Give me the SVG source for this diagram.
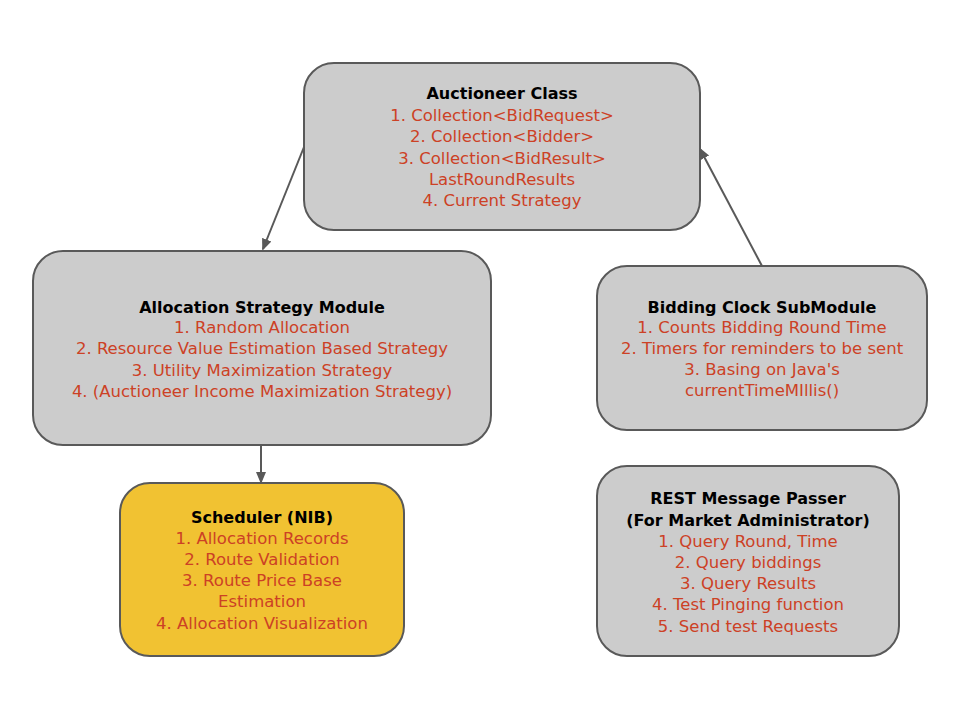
<svg xmlns="http://www.w3.org/2000/svg" width="960" height="720" viewBox="0 0 960 720">
<style>
.box{fill:#cccccc;stroke:#595959;stroke-width:2}
.yel{fill:#f1c232;stroke:#595959;stroke-width:2}
text{font-family:"DejaVu Sans","Open Sans",sans-serif;font-size:16.5px;text-anchor:middle}
.t{font-weight:bold;fill:#000000;font-size:16px}
.r{fill:#cc4125}
.c{stroke:#595959;stroke-width:2;fill:none;marker-end:url(#ah)}
</style>
<defs>
<marker id="ah" markerWidth="12" markerHeight="12" refX="10" refY="6" orient="auto" markerUnits="userSpaceOnUse" viewBox="0 0 12 12">
<path d="M0,1 L12,6 L0,11 Z" fill="#595959"/>
</marker>
</defs>
<rect width="960" height="720" fill="#ffffff"/>
<g id="auctioneer">
<rect class="box" x="304" y="63" width="396" height="167" rx="30"/>
<text class="t" x="502" y="99">Auctioneer Class</text>
<text class="r" x="502" y="121">1. Collection&lt;BidRequest&gt;</text>
<text class="r" x="502" y="142">2. Collection&lt;Bidder&gt;</text>
<text class="r" x="502" y="164">3. Collection&lt;BidResult&gt;</text>
<text class="r" x="502" y="185">LastRoundResults</text>
<text class="r" x="502" y="206">4. Current Strategy</text>
</g>
<g id="allocation">
<rect class="box" x="33" y="251" width="458" height="194" rx="30"/>
<text class="t" x="262" y="313">Allocation Strategy Module</text>
<text class="r" x="262" y="333">1. Random Allocation</text>
<text class="r" x="262" y="354">2. Resource Value Estimation Based Strategy</text>
<text class="r" x="262" y="376">3. Utility Maximization Strategy</text>
<text class="r" x="262" y="397">4. (Auctioneer Income Maximization Strategy)</text>
</g>
<g id="biddingclock">
<rect class="box" x="597" y="266" width="330" height="164" rx="30"/>
<text class="t" x="762" y="313">Bidding Clock SubModule</text>
<text class="r" x="762" y="333">1. Counts Bidding Round Time</text>
<text class="r" x="762" y="354">2. Timers for reminders to be sent</text>
<text class="r" x="762" y="375">3. Basing on Java's</text>
<text class="r" x="762" y="396">currentTimeMIllis()</text>
</g>
<g id="scheduler">
<rect class="yel" x="120" y="483" width="284" height="173" rx="30"/>
<text class="t" x="262" y="523">Scheduler (NIB)</text>
<text class="r" x="262" y="544">1. Allocation Records</text>
<text class="r" x="262" y="565">2. Route Validation</text>
<text class="r" x="262" y="586">3. Route Price Base</text>
<text class="r" x="262" y="607">Estimation</text>
<text class="r" x="262" y="629">4. Allocation Visualization</text>
</g>
<g id="rest">
<rect class="box" x="597" y="466" width="302" height="190" rx="30"/>
<text class="t" x="748" y="504">REST Message Passer</text>
<text class="t" x="748" y="526">(For Market Administrator)</text>
<text class="r" x="748" y="547">1. Query Round, Time</text>
<text class="r" x="748" y="568">2. Query biddings</text>
<text class="r" x="748" y="589">3. Query Results</text>
<text class="r" x="748" y="610">4. Test Pinging function</text>
<text class="r" x="748" y="632">5. Send test Requests</text>
</g>
<g id="connectors">
<line class="c" x1="304" y1="147" x2="263" y2="249"/>
<line class="c" x1="261" y1="445" x2="261" y2="482"/>
<line class="c" x1="762" y1="266" x2="700" y2="149"/>
</g>
</svg>
